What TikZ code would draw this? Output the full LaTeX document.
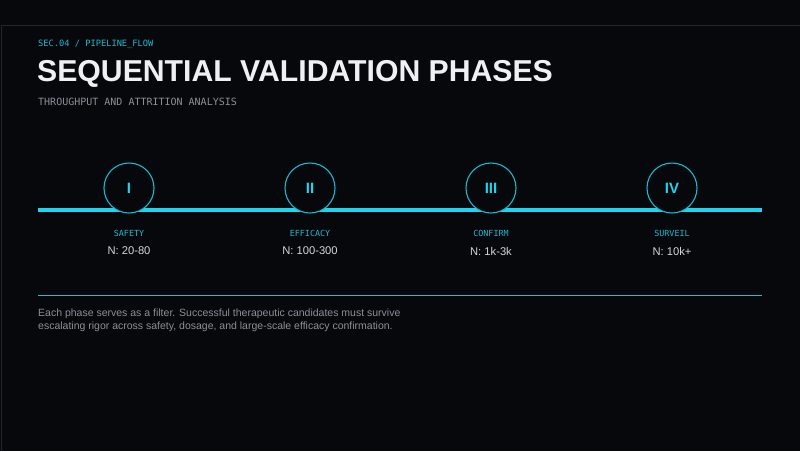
\documentclass[tikz,border=0pt]{standalone}
\usepackage{fontspec}
\setmainfont{Liberation Sans}
\newfontfamily\monofont{DejaVu Sans Mono}
\usepackage{xcolor}
\usetikzlibrary{calc}
\definecolor{bgdark}{HTML}{06080C}
\definecolor{framegray}{HTML}{23262C}
\definecolor{cyanline}{HTML}{22D3EE}
\definecolor{cyanring}{HTML}{19B9D0}
\definecolor{cyantext}{HTML}{22B8CF}
\definecolor{sepline}{HTML}{4AAEC0}
\definecolor{softwhite}{HTML}{D2D6DB}
\definecolor{titlewhite}{HTML}{EEF0F3}
\definecolor{mutedgray}{HTML}{8A9098}
\tikzset{
  phasering/.style={circle,draw=cyanring,line width=1.1pt,fill=bgdark,minimum size=50pt,inner sep=0pt,text=cyanline,font=\bfseries\fontsize{15}{15}\selectfont},
  phaselabel/.style={text=cyantext,font=\monofont\fontsize{8.4}{9}\selectfont,inner sep=0pt},
  phasecount/.style={text=softwhite,font=\fontsize{11.2}{12}\selectfont,inner sep=0pt}
}
\begin{document}
\begin{tikzpicture}[x=1pt,y=-1pt]

\fill[bgdark] (0,0) rectangle (800,451);							% Hintergrund
\useasboundingbox (0,0) rectangle (800,451);
\draw[framegray,line width=1pt] (1,451) -- (1,25) -- (800,25);	% Rahmen

\node[anchor=west,text=cyantext,font=\monofont\fontsize{8.7}{9}\selectfont,inner sep=0pt] (sec) at (38,44) {SEC.04 / PIPELINE\_FLOW};
\node[anchor=west,text=titlewhite,font=\bfseries\fontsize{30.2}{32}\selectfont,inner sep=0pt] (title) at (37,74) {SEQUENTIAL VALIDATION PHASES};
\node[anchor=west,text=mutedgray,font=\monofont\fontsize{10}{10}\selectfont,inner sep=0pt] (subtitle) at (38,102) {THROUGHPUT AND ATTRITION ANALYSIS};

\coordinate (lstart) at (38,210);
\coordinate (lend) at (762,210);
\draw[cyanline,line width=4pt] (lstart) -- (lend);				% Zeitstrahl

\node[phasering] (p1) at (129,188) {I};
\node[phasering] (p2) at (310,188) {II};
\node[phasering] (p3) at (491,188) {III};
\node[phasering] (p4) at (672,188) {IV};

\node[phaselabel] (l1) at (129,233) {SAFETY};
\node[phaselabel] (l2) at (310,233) {EFFICACY};
\node[phaselabel] (l3) at (491,233) {CONFIRM};
\node[phaselabel] (l4) at (672,233) {SURVEIL};

\node[phasecount] (n1) at (129,251) {N: 20-80};
\node[phasecount] (n2) at (310,251) {N: 100-300};
\node[phasecount] (n3) at (491,251) {N: 1k-3k};
\node[phasecount] (n4) at (672,251) {N: 10k+};

\coordinate (rstart) at (38,295);
\coordinate (rend) at (762,295);
\draw[sepline,line width=0.8pt] (rstart) -- (rend);				% Trennlinie

\node[anchor=north west,align=left,text=mutedgray,font=\fontsize{10.5}{12.5}\selectfont,inner sep=0pt] (note) at (38,309)
  {Each phase serves as a filter. Successful therapeutic candidates must survive\\escalating rigor across safety, dosage, and large-scale efficacy confirmation.};

\end{tikzpicture}
\end{document}
